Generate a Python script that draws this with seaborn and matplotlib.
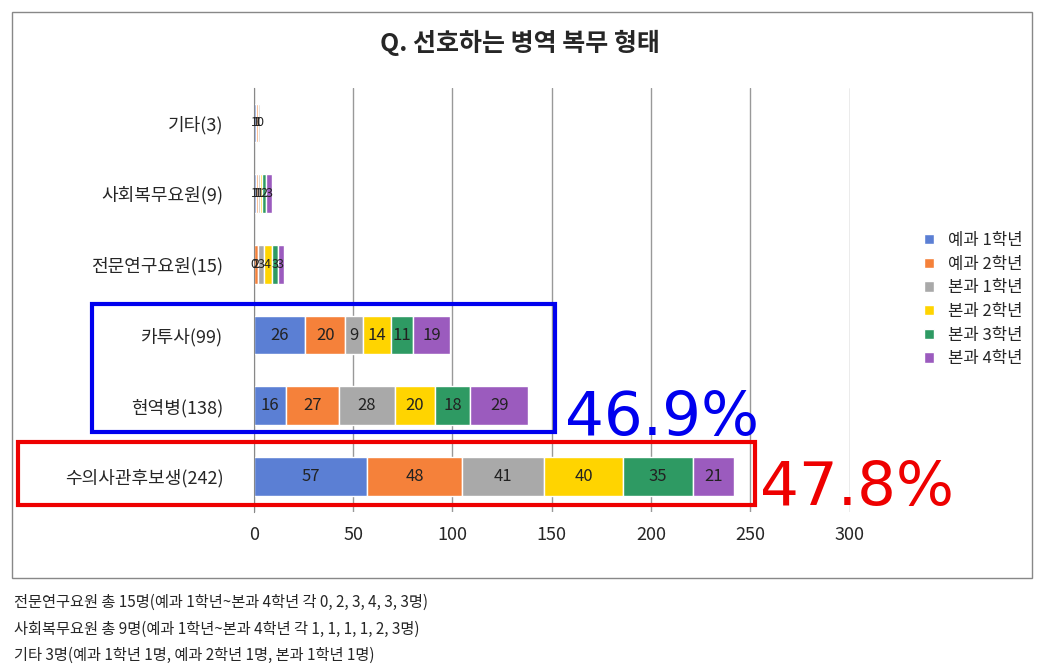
import numpy as np
import matplotlib.pyplot as plt
import seaborn as sns
from matplotlib.patches import Rectangle

sns.set_style("white")
plt.rcParams["font.family"] = ["Noto Sans CJK JP", "Noto Sans CJK KR", "Noto Sans CJK SC", "DejaVu Sans"]

categories = ["기타(3)", "사회복무요원(9)", "전문연구요원(15)", "카투사(99)", "현역병(138)", "수의사관후보생(242)"]
series = ["예과 1학년", "예과 2학년", "본과 1학년", "본과 2학년", "본과 3학년", "본과 4학년"]
values = [
    [1, 1, 0, 26, 16, 57],
    [1, 1, 2, 20, 27, 48],
    [1, 1, 3, 9, 28, 41],
    [0, 1, 4, 14, 20, 40],
    [0, 2, 3, 11, 18, 35],
    [0, 3, 3, 19, 29, 21],
]
colors = ["#5B7FD4", "#F5813A", "#A9A9A9", "#FFD400", "#2E9A63", "#9B5BBE"]

fig = plt.figure(figsize=(10.62, 6.69), dpi=100)
fig.add_artist(Rectangle((0.011, 0.136), 0.961, 0.846, transform=fig.transFigure,
                         fill=False, edgecolor="#888888", lw=1))
ax = fig.add_axes([0.239, 0.235, 0.561, 0.634])

y = np.arange(len(categories))
left = np.zeros(len(categories))
for name, vals, c in zip(series, values, colors):
    vals = np.array(vals)
    ax.barh(y, vals, left=left, height=0.55, color=c, label=name)
    for yi, (l, v) in enumerate(zip(left, vals)):
        if yi < 3:
            if v == 0 and yi != 2 and name not in ("본과 2학년",):
                continue
            ax.text(l + v / 2, yi, str(v), ha="center", va="center", fontsize=9, color="#222222")
        else:
            ax.text(l + v / 2, yi, str(v), ha="center", va="center", fontsize=12, color="#222222")
    left += vals

ax.set_xlim(0, 300)
ax.set_xticks(range(0, 301, 50))
ax.set_yticks(y)
ax.set_yticklabels(categories, fontsize=13)
ax.set_ylim(-0.5, len(categories) - 0.5)
ax.invert_yaxis()
ax.tick_params(axis="x", labelsize=13, length=0, pad=10)
ax.tick_params(axis="y", length=0, pad=22)
ax.grid(axis="x", color="#999999", lw=1)
ax.set_axisbelow(True)
for s in ["top", "right", "bottom"]:
    ax.spines[s].set_visible(False)
ax.spines["left"].set_color("#888888")
ax.legend(loc="center left", bbox_to_anchor=(1.1, 0.5), frameon=False, fontsize=12,
          handlelength=0.6, handleheight=0.6, labelspacing=0.4)

fig.suptitle("Q. 선호하는 병역 복무 형태", x=0.49, y=0.955, fontsize=18, fontweight="bold")

fig.add_artist(Rectangle((0.087, 0.355), 0.436, 0.19, transform=fig.transFigure,
                         fill=False, edgecolor="#0000EE", lw=3))
fig.add_artist(Rectangle((0.017, 0.245), 0.694, 0.094, transform=fig.transFigure,
                         fill=False, edgecolor="#EE0000", lw=3))
fig.text(0.532, 0.35, "46.9%", color="#0000EE", fontsize=44, fontfamily="DejaVu Sans")
fig.text(0.716, 0.245, "47.8%", color="#EE0000", fontsize=44, fontfamily="DejaVu Sans")

notes = ["전문연구요원 총 15명(예과 1학년~본과 4학년 각 0, 2, 3, 4, 3, 3명)",
         "사회복무요원 총 9명(예과 1학년~본과 4학년 각 1, 1, 1, 1, 2, 3명)",
         "기타 3명(예과 1학년 1명, 예과 2학년 1명, 본과 1학년 1명)"]
for i, n in enumerate(notes):
    fig.text(0.013, 0.093 - i * 0.04, n, fontsize=11)

fig.savefig("out.png", dpi=100)
